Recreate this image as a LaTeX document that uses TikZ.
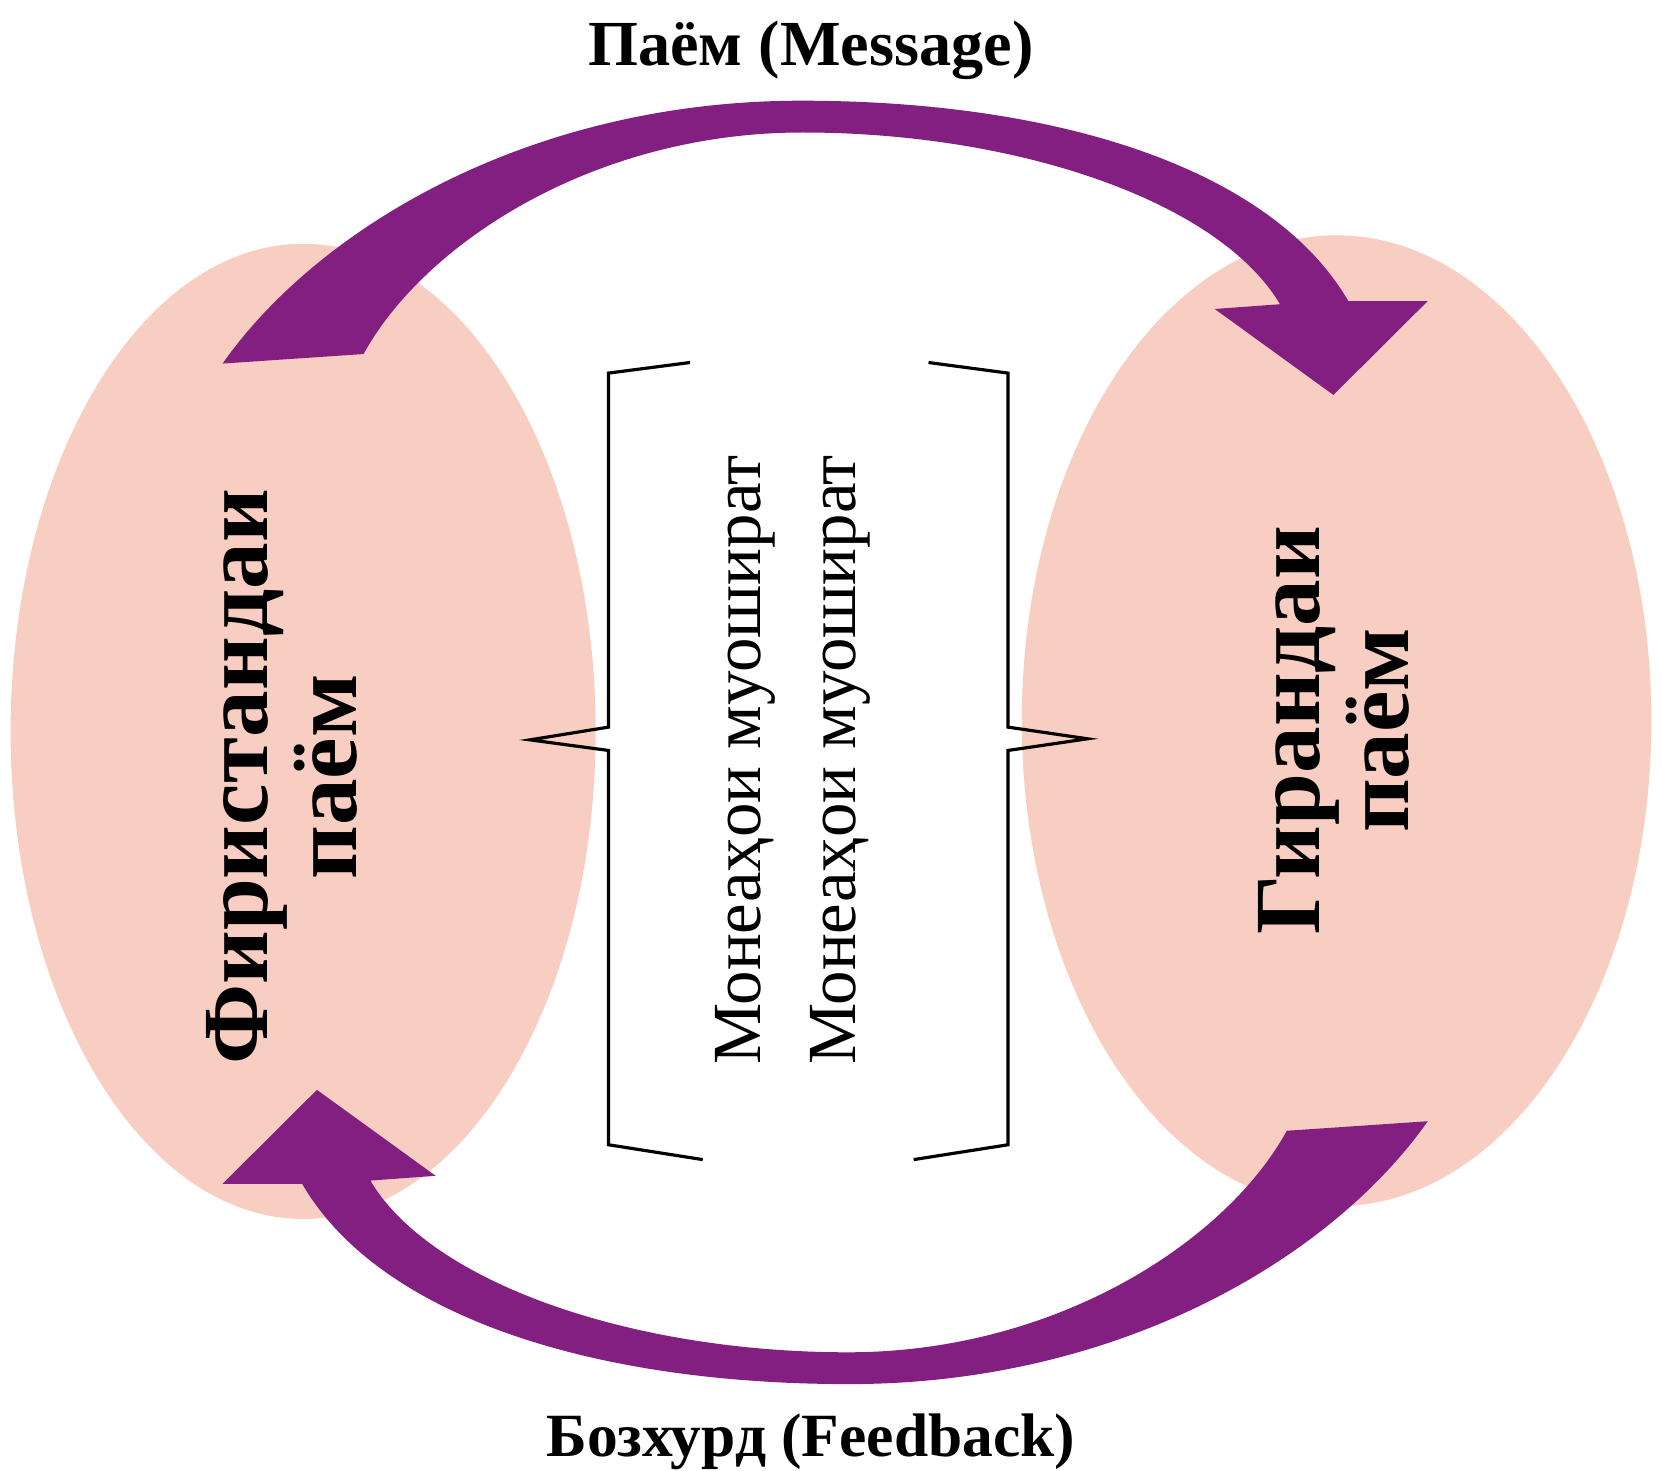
\documentclass[tikz,border=0pt]{standalone}
\usepackage{fontspec}
\setmainfont{Liberation Serif}
\definecolor{mypeach}{RGB}{249, 206, 194}
\definecolor{myplum}{RGB}{131, 31, 128}
\usepackage{tikz}
\tikzset{every picture/.style={line width=0.75pt}}

\begin{document}
\begin{tikzpicture}[x=0.5pt,y=0.5pt,yscale=-1,
  bubble/.style={draw opacity=0, fill=mypeach},
  flow/.style={draw opacity=0, fill=myplum},
  bracket/.style={line width=1.5pt, line join=miter},
  bigtext/.style={rotate=90, align=center, font=\bfseries\fontsize{44}{42}\selectfont},
  captext/.style={anchor=base, font=\bfseries\fontsize{#1}{32}\selectfont}]
\useasboundingbox (0,0) rectangle (1568,1387);

%Shape: Ellipse
\draw [bubble] (286,690) ellipse [x radius=276, y radius=460];
%Shape: Ellipse
\draw [bubble] (1261,680) ellipse [x radius=297, y radius=458];

%Shape: Curved Arrow (top)
\draw [flow] (210,343) .. controls (300,215) and (500,95) .. (756,95)
  .. controls (1000,95) and (1200,160) .. (1272,284)
  -- (1347,284) -- (1258,372.6) -- (1146,291.5) -- (1207.6,287)
  .. controls (1150,190) and (960,125) .. (757,125)
  .. controls (560,125) and (400,230) .. (343,334) -- cycle ;
%Shape: Curved Arrow (bottom)
\draw [flow] (1347,1057.8) .. controls (1257,1185.8) and (1057,1305.8) .. (801,1305.8)
  .. controls (557,1305.8) and (357,1240.8) .. (285,1116.8)
  -- (210,1116.8) -- (299,1028.2) -- (411,1109.3) -- (349.4,1113.8)
  .. controls (407,1210.8) and (597,1275.8) .. (800,1275.8)
  .. controls (997,1275.8) and (1157,1170.8) .. (1214,1066.8) -- cycle ;

%Straight Lines
\draw [bracket] (651,342) -- (574,352) -- (574,686) -- (500,698) -- (574,708) -- (574,1080) -- (663,1094) ;
%Straight Lines
\draw [bracket] (876,342) -- (951,352) -- (951,686) -- (1026,697) -- (951,708) -- (951,1080) -- (862,1094) ;

% Text Node
\node (sender) at (266,733) [bigtext] {Фиристандаи\\паём};
% Text Node
\node (receiver) at (1258,689) [bigtext] {Гирандаи\\паём};
% Text Node
\node (channels) at (748,717) [rotate=90, align=center, font=\fontsize{32.5}{45}\selectfont] {Монеаҳои муошират\\Монеаҳои муошират};
% Text Node
\node (message) at (765,62) [captext=30.3] {Паём (Message)};
% Text Node
\node (feedback) at (765,1374) [captext=29] {Бозхурд (Feedback)};

\end{tikzpicture}
\end{document}
